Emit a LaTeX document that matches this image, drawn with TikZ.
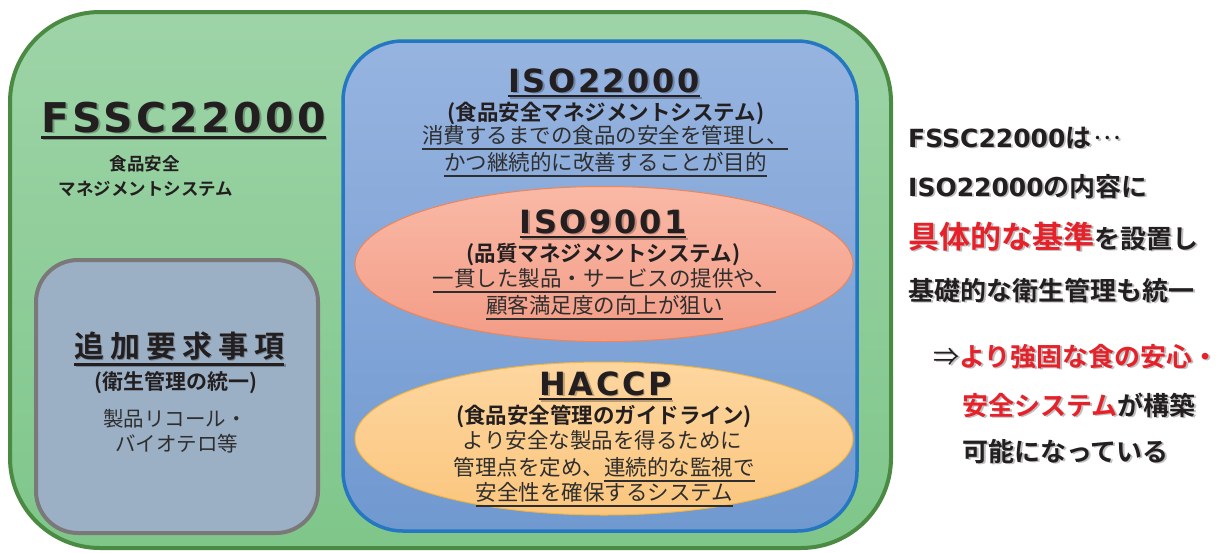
\documentclass[tikz,border=0pt]{standalone}
\usepackage{fontspec}
\setmainfont{Noto Sans CJK JP}[BoldFont={Noto Sans CJK JP Bold}]
\newfontfamily\jpwide{Noto Sans CJK JP Bold}[LetterSpace=20]
\newfontfamily\lat{DejaVu Sans Bold}
\newfontfamily\ttlf{DejaVu Sans Bold}[LetterSpace=8]
\usetikzlibrary{shapes.geometric,calc}

\definecolor{gfillT}{HTML}{9ED4A8}
\definecolor{gfillB}{HTML}{7FC68A}
\definecolor{gline}{HTML}{4A8A42}
\definecolor{bfillT}{HTML}{97B4E0}
\definecolor{bfillB}{HTML}{7099D0}
\definecolor{bline}{HTML}{2477C0}
\definecolor{grfill}{HTML}{9CB0C5}
\definecolor{grline}{HTML}{7A7878}
\definecolor{pfillT}{HTML}{F9B9A6}
\definecolor{pfillB}{HTML}{F39C86}
\definecolor{pline}{HTML}{EE8558}
\definecolor{ofillT}{HTML}{FDD69F}
\definecolor{ofillB}{HTML}{FBC67E}
\definecolor{oline}{HTML}{F4B53F}
\definecolor{ink}{HTML}{231F20}
\definecolor{bodyc}{HTML}{2E2E2E}
\definecolor{fred}{HTML}{E62129}
\colorlet{hlc}{fred}

\newsavebox\ulbx
\newcommand\uln[3]{\sbox\ulbx{#3}\rlap{\rule[#1]{\wd\ulbx}{#2}}\usebox\ulbx}
\newcommand\stxt[4]{%
  \node[#3,text=black,opacity=0.25,execute at begin node={\colorlet{hlc}{black}}] (#1s) at ($(#2)+(1.8,1.8)$) {#4};
  \node[#3] (#1) at (#2) {#4};}
\newcommand\midell{\raisebox{0.3em}{\kern2pt\mdseries\addfontfeature{LetterSpace=25}…}}

\begin{document}
\begin{tikzpicture}[x=1pt,y=-1pt,
  ttl/.style={anchor=base,inner sep=0,text=ink,font=\ttlf\fontsize{32}{36}\selectfont},
  ttlbig/.style={anchor=base,inner sep=0,text=ink,font=\ttlf\fontsize{41}{46}\selectfont},
  jpttl/.style={anchor=base,inner sep=0,text=ink,font=\jpwide\fontsize{30}{34}\selectfont},
  sub/.style={anchor=base,inner sep=0,text=ink,font=\bfseries\fontsize{21.5}{24}\selectfont},
  bod/.style={anchor=base,inner sep=0,text=bodyc,font=\fontsize{21.5}{24}\selectfont},
  fs/.style={anchor=base,inner sep=0,text=ink,font=\bfseries\fontsize{17.5}{20}\selectfont},
  gb/.style={anchor=base,inner sep=0,text=bodyc,font=\fontsize{20.5}{24}\selectfont},
  rt/.style={anchor=base west,inner sep=0,text=ink,font=\bfseries\fontsize{26}{30}\selectfont},
  container/.style={inner sep=0,rounded corners=#1},
]
\useasboundingbox (0,0) rectangle (1228,552);
\fill[white] (0,0) rectangle (1228,552);

% containers
\node[container=90pt,draw=gline,line width=4pt,top color=gfillT,bottom color=gfillB,
  minimum width=881pt,minimum height=536pt] (fssc) at (450.5,280) {};
\node[container=60pt,draw=bline,line width=3.5pt,top color=bfillT,bottom color=bfillB,
  minimum width=514pt,minimum height=490pt] (iso) at (600,286) {};
\node[container=42pt,draw=grline,line width=4pt,fill=grfill,
  minimum width=282pt,minimum height=273pt] (add) at (177,396.5) {};
\node[ellipse,inner sep=0,draw=pline,line width=1pt,top color=pfillT,bottom color=pfillB,
  minimum width=498pt,minimum height=155pt] (q9) at (604,264) {};
\node[ellipse,inner sep=0,draw=oline,line width=1pt,top color=ofillT,bottom color=ofillB,
  minimum width=498pt,minimum height=153pt] (hc) at (604,438.5) {};

% FSSC
\stxt{fsscT}{183.5,132}{ttlbig}{\uln{-6.5pt}{3pt}{FSSC22000}}
\node[fs] (fsscS1) at (144.5,170) {食品安全};
\node[fs] (fsscS2) at (146,195) {マネジメントシステム};

% additional requirements
\stxt{addT}{179,357}{jpttl}{\uln{-8.5pt}{3pt}{追加要求事項}}
\node[sub,font=\bfseries\fontsize{21}{24}\selectfont] (addS) at (176,389) {(衛生管理の統一)};
\node[gb] (addB1) at (175,426) {製品リコール・};
\node[gb] (addB2) at (176.5,451) {バイオテロ等};

% ISO22000
\stxt{isoT}{604,92}{ttl}{\uln{-5.2pt}{2.5pt}{ISO22000}}
\node[sub] (isoS) at (606,120) {(食品安全マネジメントシステム)};
\node[bod] (isoL1) at (605,143) {\uln{-6.5pt}{2pt}{消費するまでの食品の安全を管理し、}};
\node[bod] (isoL2) at (605.5,170) {\uln{-6.5pt}{2pt}{かつ継続的に改善することが目的}};

% ISO9001
\stxt{q9T}{603,233}{ttl}{\uln{-5.2pt}{2.5pt}{ISO9001}}
\node[sub] (q9S) at (603.5,261) {(品質マネジメントシステム)};
\node[bod] (q9L1) at (604.5,286) {\uln{-6.5pt}{2pt}{一貫した製品・サービスの提供や、}};
\node[bod] (q9L2) at (604.5,313) {\uln{-6.5pt}{2pt}{顧客満足度の向上が狙い}};

% HACCP
\stxt{hcT}{605.5,395}{ttl}{\uln{-5.2pt}{2.5pt}{HACCP}}
\node[sub] (hcS) at (604,423) {(食品安全管理のガイドライン)};
\node[bod] (hcL1) at (602.5,448) {より安全な製品を得るために};
\node[bod] (hcL2) at (604,475) {管理点を定め、\uln{-6.5pt}{2pt}{連続的な監視で}};
\node[bod] (hcL3) at (604.5,500) {\uln{-6.5pt}{2pt}{安全性を確保するシステム}};

% right-hand text
\stxt{r1}{908,147}{rt}{{\lat\fontsize{25}{30}\selectfont FSSC22000}は\midell}
\stxt{r2}{908,196}{rt}{{\lat\fontsize{25}{30}\selectfont ISO22000}の内容に}
\stxt{r3}{908,248}{rt}{\textcolor{hlc}{\fontsize{31}{34}\selectfont 具体的な基準}を設置し}
\stxt{r4}{908,300}{rt}{基礎的な衛生管理も統一}
\stxt{r5}{933,366}{rt}{{\mdseries ⇒}\textcolor{hlc}{より強固な食の安心・}}
\stxt{r6}{962,415}{rt}{\textcolor{hlc}{安全システム}が構築}
\stxt{r7}{962,461}{rt}{可能になっている}
\end{tikzpicture}
\end{document}
